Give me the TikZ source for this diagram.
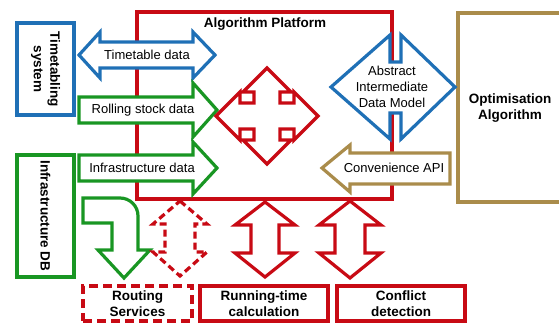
\documentclass[tikz,border=0pt]{standalone}
\usepackage{fontspec}
\setmainfont{Liberation Sans}

\definecolor{ttblue}{RGB}{31,112,182}
\definecolor{dbgreen}{RGB}{25,150,35}
\definecolor{apred}{RGB}{200,10,20}
\definecolor{optgold}{RGB}{170,140,75}

\begin{document}
\begin{tikzpicture}[x=1pt,y=-1pt,line width=3.2pt,line join=miter]
        \tikzstyle{every node}=[font=\fontsize{13}{16}\selectfont, inner sep=0pt, align=center]
        \tikzstyle{boldtxt}=[font=\fontsize{13.5}{16.5}\selectfont\bfseries]
        \tikzstyle{blockarrow}=[fill=white]
        \tikzstyle{redbox}=[draw=apred, boldtxt, minimum width=128pt, minimum height=35pt]

        \useasboundingbox (0,0) rectangle (559,322);

        % platform and the algorithm on the right
        \draw[draw=apred] (137,12) rectangle (392,199);
        \node[boldtxt] (platform) at (265,24) {Algorithm Platform};
        \draw[draw=optgold] (458,13) rectangle (580,202);
        \node[boldtxt] (optalgo) at (510,108) {Optimisation\\Algorithm};

        % data sources
        \node[draw=ttblue, boldtxt, rotate=-90, minimum width=92pt, minimum height=57pt] (timetabling) at (45.5,69) {Timetabling\\system};
        \node[draw=dbgreen, boldtxt, rotate=-90, minimum width=122pt, minimum height=57pt] (infradb) at (45.5,216) {Infrastructure DB};

        % data arrows into the platform
        \draw[blockarrow, draw=ttblue] (79,55) -- (100,32) -- (100,42) -- (193,42) -- (193,32) -- (215,55) -- (193,78) -- (193,68) -- (100,68) -- (100,78) -- cycle;
        \node (ttdata) at (147,55) {Timetable data};
        \draw[blockarrow, draw=dbgreen] (79,97) -- (193,97) -- (193,83) -- (217,110) -- (193,137) -- (193,123) -- (79,123) -- cycle;
        \node (rsdata) at (143,110) {Rolling stock data};
        \draw[blockarrow, draw=dbgreen] (79,155) -- (193,155) -- (193,142) -- (217,168) -- (193,194) -- (193,181) -- (79,181) -- cycle;
        \node (infradata) at (142,168) {Infrastructure data};
        \draw[blockarrow, draw=dbgreen] (83,198) -- (120,198) .. controls (130,198) and (138,206) .. (138,216) -- (138,250) -- (150,250) -- (124,278) -- (98,250) -- (112,250) -- (112,223) -- (83,223) -- cycle;

        % exchange inside the platform
        \draw[blockarrow, draw=apred, shift={(267,116)}] (0,-48) -- (24,-24) -- (13,-24) -- (13,-13) -- (27,-13) -- (27,-24) -- (51,0) -- (27,24) -- (27,13) -- (13,13) -- (13,24) -- (24,24) -- (0,48) -- (-24,24) -- (-13,24) -- (-13,13) -- (-27,13) -- (-27,24) -- (-51,0) -- (-27,-24) -- (-27,-13) -- (-13,-13) -- (-13,-24) -- (-24,-24) -- cycle;

        % data model and API
        \draw[blockarrow, draw=ttblue] (331,87) -- (390,35) -- (390,62) -- (401,62) -- (401,35) -- (455,87) -- (401,139) -- (401,113) -- (390,113) -- (390,139) -- cycle;
        \node (datamodel) at (392,87) {Abstract\\Intermediate\\Data Model};
        \draw[blockarrow, draw=optgold] (322,168) -- (350,145) -- (350,153) -- (450,153) -- (450,184) -- (350,184) -- (350,192) -- cycle;
        \node (api) at (394,168) {Convenience API};

        % services below the platform
        \draw[blockarrow, draw=apred, dash pattern=on 7pt off 4pt, shift={(180,0)}] (0,201) -- (27,224) -- (15,224) -- (15,252) -- (27,252) -- (0,276) -- (-27,252) -- (-15,252) -- (-15,224) -- (-27,224) -- cycle;
        \draw[blockarrow, draw=apred, shift={(265,0)}] (0,202) -- (30,225) -- (14,225) -- (14,253) -- (30,253) -- (0,277) -- (-30,253) -- (-14,253) -- (-14,225) -- (-30,225) -- cycle;
        \draw[blockarrow, draw=apred, shift={(350,0)}] (0,201) -- (31,225) -- (15,225) -- (15,253) -- (31,253) -- (0,278) -- (-31,253) -- (-15,253) -- (-15,225) -- (-31,225) -- cycle;

        \node[redbox, dash pattern=on 9pt off 5pt, minimum width=109pt] (routing) at (137.5,303.5) {Routing\\Services};
        \node[redbox] (runtime) at (264,303.5) {Running-time\\calculation};
        \node[redbox] (conflict) at (401,303.5) {Conflict\\detection};
\end{tikzpicture}
\end{document}
